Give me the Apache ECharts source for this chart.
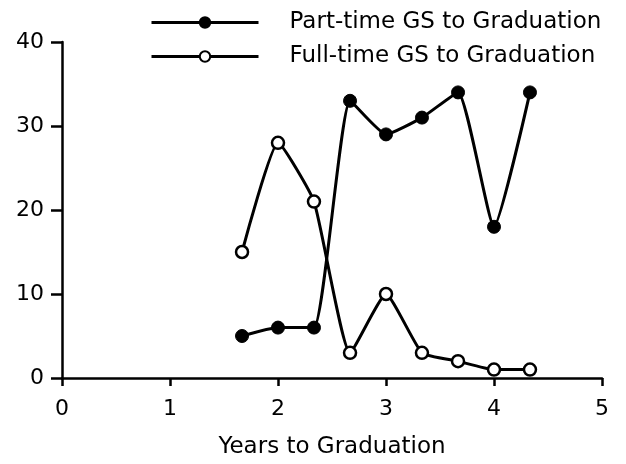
<!DOCTYPE html>
<html>
<head>
<meta charset="utf-8">
<script src="https://cdn.jsdelivr.net/npm/echarts@6/dist/echarts.min.js"></script>
<style>
  html, body { margin: 0; padding: 0; background: #fff; }
  #chart { width: 626px; height: 464px; }
</style>
</head>
<body>
<div id="chart"></div>
<script>
// years to graduation (x positions)
const years = [1.667, 2, 2.333, 2.667, 3, 3.333, 3.667, 4, 4.333]
const partTime = [5, 6, 6, 33, 29, 31, 34, 18, 34]
const fullTime = [15, 28, 21, 3, 10, 3, 2, 1, 1]

const font = 'DejaVu Sans'

const chart = echarts.init(document.getElementById('chart'))

const option = {
  animation: false,
  backgroundColor: '#fff',
  textStyle: { fontFamily: font, color: '#000' },
  legend: {
    orient: 'vertical',
    left: 145,
    top: 6,
    itemWidth: 107,
    itemHeight: 13,
    itemGap: 11,
    lineStyle: { width: 3, color: '#000' },
    textStyle: { fontSize: 23, color: '#000', fontFamily: font, padding: [0, 0, 0, 26] },
    data: ['Part-time GS to Graduation', 'Full-time GS to Graduation']
  },
  grid: { left: 62, right: 24, top: 42, bottom: 84 },
  xAxis: {
    type: 'value',
    min: 0,
    max: 5,
    interval: 1,
    name: 'Years to Graduation',
    nameLocation: 'middle',
    nameGap: 58,
    nameTextStyle: { fontSize: 23, color: '#000', fontFamily: font },
    axisLine: { lineStyle: { color: '#000', width: 2.5 } },
    axisTick: { length: 8, lineStyle: { color: '#000', width: 2.5 } },
    axisLabel: { fontSize: 22, color: '#000', margin: 20, fontFamily: font },
    splitLine: { show: false }
  },
  yAxis: {
    type: 'value',
    min: 0,
    max: 40,
    interval: 10,
    axisLine: { show: true, lineStyle: { color: '#000', width: 2.5 } },
    axisTick: { show: true, length: 11, lineStyle: { color: '#000', width: 2.5 } },
    axisLabel: { fontSize: 22, color: '#000', margin: 18, fontFamily: font },
    splitLine: { show: false }
  },
  series: [
    {
      name: 'Part-time GS to Graduation',
      type: 'line',
      smooth: 0.15,
      data: years.map((x, i) => [x, partTime[i]]),
      symbol: 'circle',
      symbolSize: 13,
      lineStyle: { color: '#000', width: 3 },
      itemStyle: { color: '#000', borderColor: '#000', borderWidth: 1 }
    },
    {
      name: 'Full-time GS to Graduation',
      type: 'line',
      smooth: 0.15,
      data: years.map((x, i) => [x, fullTime[i]]),
      symbol: 'circle',
      symbolSize: 12,
      lineStyle: { color: '#000', width: 3 },
      itemStyle: { color: '#fff', borderColor: '#000', borderWidth: 2.5 }
    }
  ]
}

chart.setOption(option)
</script>
</body>
</html>
